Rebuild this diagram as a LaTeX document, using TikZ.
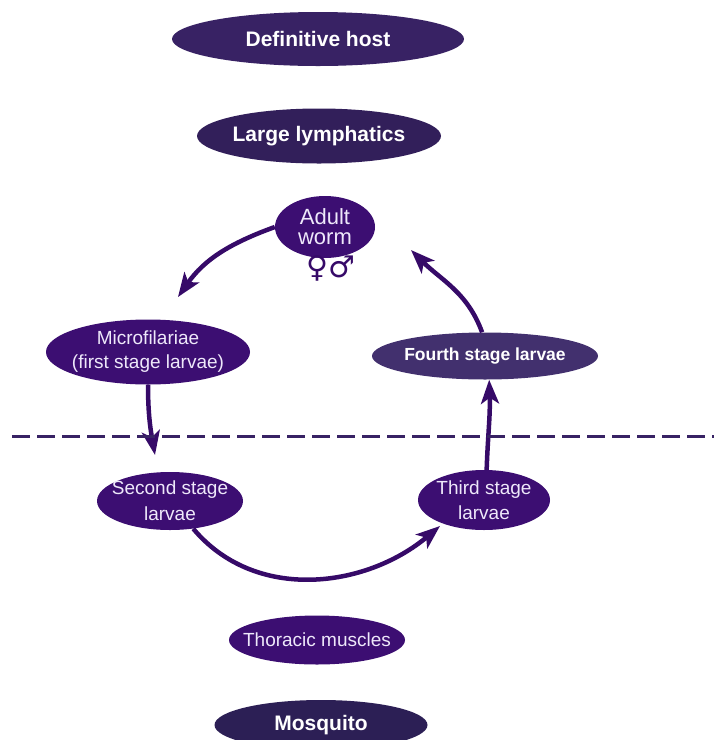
\documentclass[tikz,border=0pt]{standalone}
\usepackage{fontspec}
\setmainfont{Liberation Sans}
\newfontfamily\symfont{DejaVu Sans}
\usetikzlibrary{arrows.meta, positioning, shapes.geometric}
\usepackage{xcolor}
\definecolor{stagepurple}{RGB}{60,14,114}
\definecolor{hostpurple}{RGB}{56,34,100}
\definecolor{fourthpurple}{RGB}{66,48,110}
\definecolor{mosquitonavy}{RGB}{44,31,85}
\definecolor{arrowpurple}{RGB}{54,10,104}
\definecolor{stagetext}{RGB}{238,232,250}

\begin{document}
\begin{tikzpicture}[x=1pt,y=1pt,>={Stealth[length=24pt,width=18pt,inset=6pt]}]
    \tikzstyle{blob}=[ellipse, fill=stagepurple, inner sep=0pt]
    \tikzstyle{blobtext}=[text=stagetext, align=center, inner sep=0pt, font=\fontsize{19}{25}\selectfont]
    \tikzstyle{hosttext}=[blobtext, text=white, font=\bfseries\fontsize{21}{24}\selectfont]
    \tikzstyle{cycle}=[->, draw=arrowpurple, line width=4.5pt]

    \useasboundingbox (0,0) rectangle (714,-740);

    % hosts and sites
    \node[blob, fill=hostpurple, minimum width=292, minimum height=54,
          label={[hosttext]center:Definitive host}] (defhost) at (318,-39) {};
    \node[blob, fill=hostpurple!90!black, minimum width=244, minimum height=55,
          label={[hosttext]center:Large lymphatics}] (lymph) at (319,-136) {};
    \node[blob, minimum width=176, minimum height=49,
          label={[blobtext]center:Thoracic muscles}] (thoracic) at (317,-640) {};
    \node[blob, fill=mosquitonavy, minimum width=213, minimum height=50,
          label={[hosttext]center:Mosquito}] (mosquito) at (321,-725) {};

    % life cycle stages
    \node[blob, minimum width=100, minimum height=62,
          label={[blobtext, font=\fontsize{22}{20}\selectfont]center:Adult\\worm}] (adult) at (325,-227) {};
    \node[text=arrowpurple, inner sep=0pt, font=\symfont\fontsize{30}{30}\selectfont] (sex) at (331,-268) {♀♂};
    \node[blob, minimum width=204, minimum height=65,
          label={[blobtext, font=\fontsize{19}{24}\selectfont]center:Microfilariae\\(first stage larvae)}] (micro) at (148,-352) {};
    \node[blob, fill=fourthpurple, minimum width=226, minimum height=47,
          label={[hosttext, font=\bfseries\fontsize{17.5}{20}\selectfont]center:Fourth stage larvae}] (fourth) at (485,-356) {};
    \node[blob, minimum width=146, minimum height=58,
          label={[blobtext, font=\fontsize{19}{26}\selectfont]center:Second stage\\larvae}] (second) at (170,-501) {};
    \node[blob, minimum width=132, minimum height=60,
          label={[blobtext]center:Third stage\\larvae}] (third) at (484,-500) {};

    % arrow tips
    \coordinate (micro-in) at (178,-297);
    \coordinate (second-in) at (155,-455);
    \coordinate (third-in) at (440,-526);
    \coordinate (adult-in) at (411,-250);

    \draw[cycle] (adult.west) to[out=200,in=55] (micro-in);
    \draw[cycle] (micro.south) to[out=-90,in=100] (second-in);
    \draw[cycle] (second.-50) to[out=-50,in=220] (third-in);
    \draw[cycle] (third.85) to[out=88,in=-88] (fourth.-80);
    \draw[cycle] (fourth.97) to[out=110,in=-45] (adult-in);

    % host / vector border
    \coordinate (border-l) at (12,-436);
    \coordinate (border-r) at (714,-436);
    \draw[hostpurple, line width=3pt, dash pattern=on 18pt off 7pt] (border-l) -- (border-r);
\end{tikzpicture}
\end{document}
